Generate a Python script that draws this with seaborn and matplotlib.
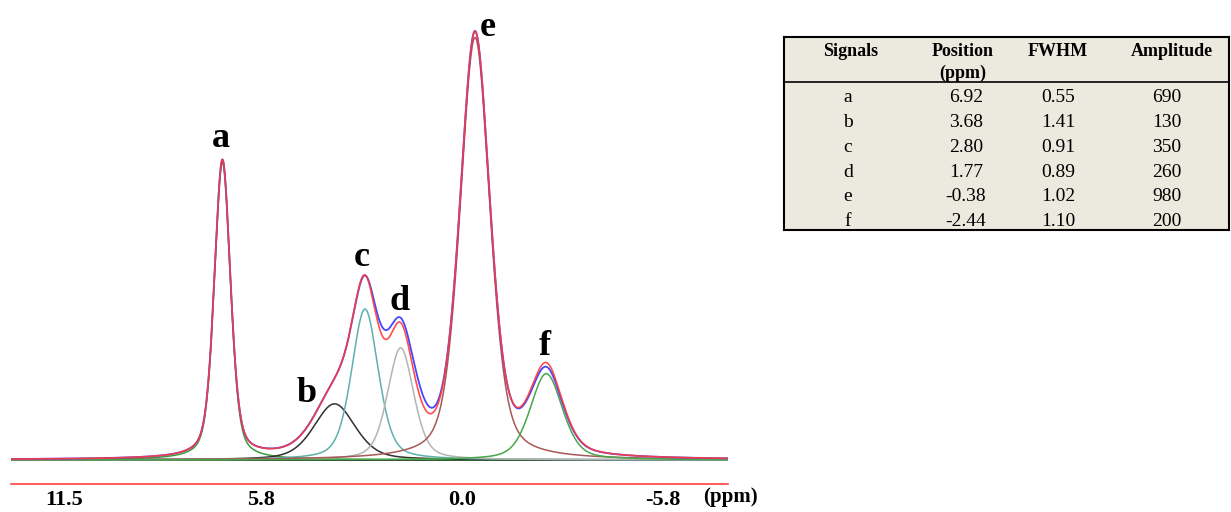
import numpy as np
import matplotlib
matplotlib.use("Agg")
import matplotlib.pyplot as plt
import seaborn as sns

# fitted signals (from the table)
signals = ["a", "b", "c", "d", "e", "f"]
position = [6.92, 3.68, 2.80, 1.77, -0.38, -2.44]
fwhm = [0.55, 1.41, 0.91, 0.89, 1.02, 1.10]
amplitude = [690, 130, 350, 260, 980, 200]

meas_amplitude = [690, 130, 340, 272, 980, 190]
meas_fwhm = [0.55, 1.41, 0.91, 1.00, 1.02, 1.10]

comp_colors = ["#3c9c3c", "#303030", "#5fb0ad", "#b4b4b4", "#a65858", "#4aa64a"]

# label spots for the peak letters (ppm, intensity)
label_x = [6.97, 4.48, 2.89, 1.79, -0.75, -2.40]
label_y = [726, 135, 450, 348, 984, 244]

xticks = [11.5, 5.8, 0.0, -5.8]
xticklabels = ["11.5", "5.8", "0.0", "-5.8"]

sns.set_style("white")
plt.rcParams["font.family"] = ["Liberation Serif", "DejaVu Serif"]
plt.rcParams["text.color"] = "black"
plt.rcParams["xtick.labelcolor"] = "black"


def pvoigt(x, x0, w, amp, eta=0.4):
    lor = 1.0 / (1.0 + ((x - x0) / (w / 2)) ** 2)
    gau = np.exp(-4 * np.log(2) * ((x - x0) / w) ** 2)
    return amp * (eta * lor + (1 - eta) * gau)


ppm = np.linspace(13.03, -7.69, 3000)

fig = plt.figure(figsize=(12.31, 5.12), dpi=100)
ax = fig.add_axes([11 / 1231, (512 - 484) / 512, 717 / 1231, 484 / 512])

fit_sum = np.zeros_like(ppm)
meas_sum = np.zeros_like(ppm)
for i in range(len(signals)):
    comp = pvoigt(ppm, position[i], fwhm[i], amplitude[i])
    fit_sum += comp
    meas_sum += pvoigt(ppm, position[i], meas_fwhm[i], meas_amplitude[i])
    sns.lineplot(x=ppm, y=comp, color=comp_colors[i], lw=1.1, ax=ax)

sns.lineplot(x=ppm, y=meas_sum, color="#4646ff", lw=1.3, ax=ax)
sns.lineplot(x=ppm, y=fit_sum, color="#ff3a3a", lw=1.2, alpha=0.9, ax=ax)
ax.axhline(0, color="#1e1e1e", lw=1.3, zorder=1.5)

for s, lx, ly in zip(signals, label_x, label_y):
    ax.text(lx, ly, s, ha="center", va="baseline", fontsize=26,
            fontweight="bold", color="black")

ax.set_xlim(13.03, -7.69)
ax.set_ylim(-56, 1067)
ax.set_yticks([])
ax.set_xticks(xticks)
ax.set_xticklabels(xticklabels, fontsize=16, fontweight="bold", color="black")
ax.tick_params(axis="x", direction="in", length=5, width=1, color="#ff4040",
               pad=4, labelcolor="black")
for side in ["left", "top", "right"]:
    ax.spines[side].set_visible(False)
ax.spines["bottom"].set_color("#ff4040")
ax.spines["bottom"].set_linewidth(1.2)
ax.set_xlabel("")
ax.set_ylabel("")
fig.text(703 / 1231, 1 - 497 / 512, "(ppm)", ha="left", va="center",
         fontsize=15, fontweight="bold", color="black")

# parameter table
tax = fig.add_axes([784 / 1231, (512 - 230) / 512, (1229 - 784) / 1231, (230 - 37) / 512])
tax.set_facecolor("#ece9df")
tax.set_xlim(784, 1229)
tax.set_ylim(230, 37)
tax.set_xticks([])
tax.set_yticks([])
for sp in tax.spines.values():
    sp.set_color("black")
    sp.set_linewidth(1.5)
tax.axhline(82, color="black", lw=1.2)

head_x = [851, 963, 1058, 1172]
for hx, h in zip(head_x, ["Signals", "Position", "FWHM", "Amplitude"]):
    tax.text(hx, 52, h, ha="center", va="center", fontsize=13,
             fontweight="bold", color="black")
tax.text(head_x[1], 73, "(ppm)", ha="center", va="center", fontsize=13,
         fontweight="bold", color="black")

col_x = [848, 966, 1058, 1167]
for i in range(len(signals)):
    ry = 98 + i * 24.67
    row = [signals[i], f"{position[i]:.2f}", f"{fwhm[i]:.2f}", f"{amplitude[i]}"]
    for cx, val in zip(col_x, row):
        tax.text(cx, ry, val, ha="center", va="center", fontsize=14,
                 color="black")

fig.savefig("out.png", dpi=100)
